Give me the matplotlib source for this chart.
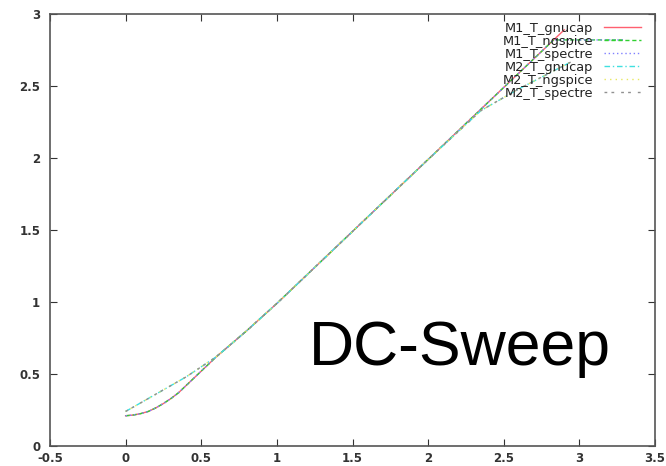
import numpy as np
import matplotlib
matplotlib.use('Agg')
import matplotlib.pyplot as plt

# DC sweep, M1 / M2 transistor curves from three simulators
x_m1 = [0, 0.05, 0.1, 0.15, 0.2, 0.25, 0.3, 0.35, 0.4, 0.45, 0.5, 0.55, 0.6, 0.7, 0.8,
        1.0, 1.5, 2.0, 2.5, 2.9]
y_m1 = [0.21, 0.215, 0.225, 0.24, 0.265, 0.295, 0.33, 0.37, 0.42, 0.47, 0.52, 0.57, 0.62,
        0.71, 0.80, 0.99, 1.49, 1.99, 2.49, 2.89]
x_m1_sat = [0, 0.05, 0.1, 0.15, 0.2, 0.25, 0.3, 0.35, 0.4, 0.45, 0.5, 0.55, 0.6, 0.7, 0.8,
            1.0, 1.5, 2.0, 2.5, 2.83, 3.3]
y_m1_sat = [0.21, 0.215, 0.225, 0.24, 0.265, 0.295, 0.33, 0.37, 0.42, 0.47, 0.52, 0.57, 0.62,
            0.71, 0.80, 0.99, 1.49, 1.99, 2.49, 2.82, 2.82]
x_m2 = [0, 0.1, 0.2, 0.3, 0.4, 0.5, 0.6, 0.7, 0.8, 1.0, 1.5, 2.0, 2.35, 2.6, 2.95]
y_m2 = [0.24, 0.30, 0.36, 0.42, 0.48, 0.55, 0.62, 0.71, 0.80, 0.99, 1.49, 1.99, 2.33, 2.48, 2.67]

labels = ['M1_T_gnucap', 'M1_T_ngspice', 'M1_T_spectre',
          'M2_T_gnucap', 'M2_T_ngspice', 'M2_T_spectre']

fig = plt.figure(figsize=(6.66, 4.66), dpi=100)
ax = fig.add_axes([50/666, 20/466, 605/666, 432/466])

ax.plot(x_m1, y_m1, color='#ff6070', lw=1.0, ls='-', label=labels[0])
ax.plot(x_m1_sat, y_m1_sat, color='#30d030', lw=1.0, ls=(0, (3, 2)), label=labels[1])
ax.plot(x_m1_sat, y_m1_sat, color='#8080ff', lw=1.0, ls=(0, (1, 2)), label=labels[2])
ax.plot(x_m2, y_m2, color='#40e0e0', lw=1.0, ls=(0, (4, 2, 1, 2)), label=labels[3])
ax.plot(x_m2, y_m2, color='#e8e860', lw=1.0, ls=(0, (1, 3)), label=labels[4])
ax.plot(x_m2, y_m2, color='#909090', lw=1.0, ls=(0, (2, 3, 2, 5)), label=labels[5])

ax.set_xlim(-0.5, 3.5)
ax.set_ylim(0, 3)
ax.set_xticks(np.arange(-0.5, 3.51, 0.5))
ax.set_xticklabels(['-0.5', '0', '0.5', '1', '1.5', '2', '2.5', '3', '3.5'])
ax.set_yticks(np.arange(0, 3.01, 0.5))
ax.set_yticklabels(['0', '0.5', '1', '1.5', '2', '2.5', '3'])
ax.tick_params(direction='in', length=5, width=0.8, top=True, right=True,
               labelsize=8.5, colors='#333333')
ax.tick_params(axis='x', pad=4)
ax.tick_params(axis='y', pad=7)
for lab in ax.get_xticklabels() + ax.get_yticklabels():
    lab.set_fontweight('bold')
for s in ax.spines.values():
    s.set_color('#555555')
    s.set_linewidth(1.2)

leg = ax.legend(loc='upper right', markerfirst=False, frameon=False, fontsize=9.3,
                handlelength=2.9, handletextpad=0.8, labelspacing=0.0,
                borderaxespad=0.2, bbox_to_anchor=(0.99, 1.0))
for t in leg.get_texts():
    t.set_color('#222222')

fig.text(460/666, 1 - 348/466, 'DC-Sweep', fontsize=45, family='Liberation Sans',
         ha='center', va='center', color='black')

fig.savefig('out.png', dpi=100)
